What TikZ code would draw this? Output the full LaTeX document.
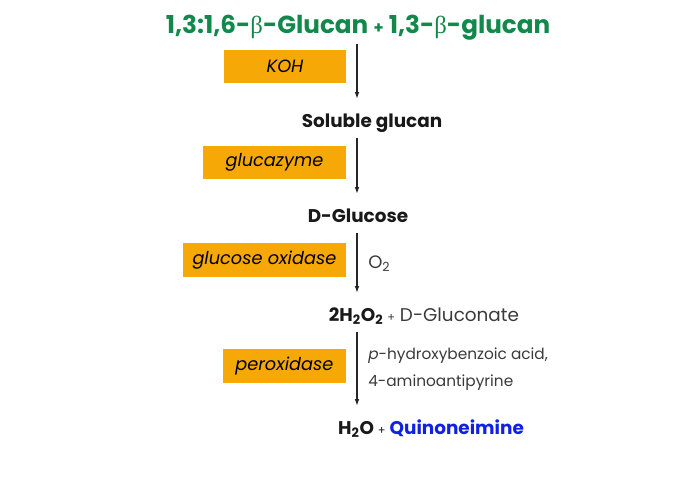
\documentclass[tikz,border=0pt]{standalone}
\usepackage{fontspec}
\setmainfont{Poppins}
\newfontfamily\betafont{Liberation Serif}
\usepackage{tikz}
\usetikzlibrary{arrows.meta}
\definecolor{titlegreen}{HTML}{12894B}
\definecolor{enzymeorange}{HTML}{F5A806}
\definecolor{productblue}{HTML}{1020E6}
\definecolor{reagentgrey}{HTML}{3A3A3A}
\tikzset{
    compound/.style = {
        anchor=base,
        inner sep=0pt,
        text height=10pt,
        text depth=4pt,
        font=\fontsize{13.8}{16}\selectfont\bfseries,
        text=black!90
    },
    titlenode/.style = {
        compound,
        font=\fontsize{18.5}{22}\selectfont\bfseries,
        text=titlegreen
    },
    enzymebox/.style = {
        anchor=east,
        fill=enzymeorange,
        inner sep=0pt,
        minimum height=25pt,
        font=\fontsize{13.3}{15}\selectfont\itshape,
        text=black
    },
    reagent/.style = {
        anchor=west,
        inner sep=0pt,
        align=left,
        font=\fontsize{11.5}{20}\selectfont,
        text=reagentgrey
    },
    reaction/.style = {
        draw=black!85,
        line width=0.8pt,
        shorten <=4.3pt,
        shorten >=11pt,
        -{Latex[length=5pt,width=3.5pt]}
    }
}
\newcommand{\smallplus}{{\fontsize{8.5}{8}\selectfont +}}
\newcommand{\betasym}{{\betafont\mdseries β}}

\begin{document}
\begin{tikzpicture}[x=0.75pt,y=-0.75pt]
    \useasboundingbox (0,0) rectangle (690,480);
    \coordinate (axis) at (357,0);
    \node [titlenode] (start) at (358,33) {1,3:1,6-\betasym-Glucan {\fontsize{12}{12}\selectfont +} 1,3-\betasym-glucan};
    \node [compound] (soluble) at (372,127) {Soluble glucan};
    \node [compound] (glucose) at (358,222) {D-Glucose};
    \node [compound] (peroxide) at (424,321) {2H\textsubscript{2}O\textsubscript{2} {\mdseries\color{reagentgrey}\smallplus{} D-Gluconate}};
    \node [compound] (final) at (431,434) {H\textsubscript{2}O {\mdseries\smallplus} {\color{productblue}Quinoneimine}};

    \node [enzymebox, minimum width=91pt] (koh) at (346,66.5) {KOH};
    \node [enzymebox, minimum width=107pt] (glucazyme) at (346,162.5) {glucazyme};
    \node [enzymebox, minimum width=122pt] (oxidase) at (346,260) {glucose oxidase};
    \node [enzymebox, minimum width=92pt] (peroxidase) at (346,366) {peroxidase};

    \node [reagent, font=\fontsize{13.5}{16}\selectfont] (oxygen) at (368,264) {O\textsubscript{2}};
    \node [reagent] (substrates) at (368,369) {\textit{p}-hydroxybenzoic acid,\\4-aminoantipyrine};

    \draw [reaction] (start.south -| axis) -- (soluble.north -| axis);
    \draw [reaction] (soluble.south -| axis) -- (glucose.north -| axis);
    \draw [reaction] (glucose.south -| axis) -- (peroxide.north -| axis);
    \draw [reaction] (peroxide.south -| axis) -- (final.north -| axis);
\end{tikzpicture}
\end{document}
